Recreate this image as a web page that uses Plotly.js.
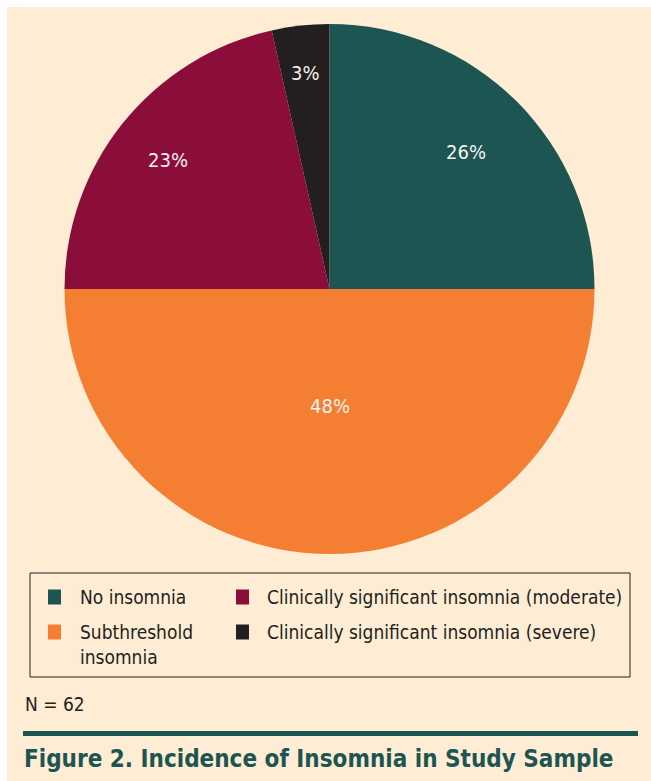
<!DOCTYPE html>
<html>
<head>
<meta charset="utf-8">
<script src="https://cdn.plot.ly/plotly-3.0.1.min.js"></script>
<style>
  html, body { margin: 0; padding: 0; background: #ffffff; }
  #chart { width: 651px; height: 781px; }
</style>
</head>
<body>
<div id="chart"></div>
<script>
// ---- data ----
const categories = ['No insomnia', 'Subthreshold insomnia', 'Clinically significant insomnia (moderate)', 'Clinically significant insomnia (severe)'];
// slice sizes as drawn in the picture (share of the circle, %)
const sliceShares = [25, 50, 21.5, 3.5];
// percentages printed on the slices
const percentLabels = ['26%', '48%', '23%', '3%'];
const sliceColors = ['#1c5552', '#f47f32', '#8b0d3a', '#231f20'];
const legendLabels = ['No insomnia', 'Subthreshold<br>insomnia', 'Clinically significant insomnia (moderate)', 'Clinically significant insomnia (severe)'];
const sampleNote = 'N = 62';
const figureTitle = 'Figure 2. Incidence of Insomnia in Study Sample';

// ---- layout helpers ----
const W = 651, H = 781;
const px = x => x / W;
const py = y => 1 - y / H;
const FONT = '"DejaVu Sans Condensed", "DejaVu Sans", sans-serif';
const cream = '#feedd4';
const teal = '#1c5552';

const cx = 329.5, cy = 289, r = 265;
// radial placement of the printed percentages (fraction of radius), per slice
const labelRadius = [0.73, 0.44, 0.78, 0.82];

const trace = {
  type: 'pie',
  labels: categories,
  values: sliceShares,
  sort: false,
  direction: 'clockwise',
  rotation: 0,
  marker: { colors: sliceColors, line: { width: 0 } },
  textinfo: 'none',
  hoverinfo: 'label',
  showlegend: false,
  domain: { x: [px(cx - r), px(cx + r)], y: [py(cy + r), py(cy - r)] }
};

const shapes = [
  { type: 'rect', xref: 'paper', yref: 'paper', x0: px(7), x1: 1, y0: 0, y1: py(7),
    fillcolor: cream, line: { width: 0 }, layer: 'below' },
  { type: 'rect', xref: 'paper', yref: 'paper', x0: px(30), x1: px(630), y0: py(677), y1: py(573),
    fillcolor: 'rgba(0,0,0,0)', line: { color: '#231f20', width: 1 } },
  { type: 'line', xref: 'paper', yref: 'paper', x0: px(23), x1: px(638), y0: py(733.5), y1: py(733.5),
    line: { color: teal, width: 5 } }
];

const annotations = [];

// percentage labels placed at each slice's mid-angle
const total = sliceShares.reduce((a, b) => a + b, 0);
let cum = 0;
sliceShares.forEach((v, i) => {
  const mid = (cum + v / 2) / total * 2 * Math.PI; // clockwise from 12 o'clock
  cum += v;
  const rr = r * labelRadius[i];
  const X = cx + rr * Math.sin(mid);
  const Y = cy - rr * Math.cos(mid);
  annotations.push({ xref: 'paper', yref: 'paper', x: px(X), y: py(Y), xanchor: 'center', yanchor: 'middle',
    showarrow: false, text: percentLabels[i], font: { family: FONT, size: 20, color: '#f4f1ee' } });
});

// legend drawn as a two-column box
const colSquareX = [48, 236];
const colTextX = [78, 265];
const rowY = [597, 632];
const legFont = 19;
categories.forEach((c, i) => {
  const col = Math.floor(i / 2), row = i % 2;
  const yc = rowY[row];
  shapes.push({ type: 'rect', xref: 'paper', yref: 'paper',
    x0: px(colSquareX[col]), x1: px(colSquareX[col] + 13),
    y0: py(yc + 7.5), y1: py(yc - 7.5),
    fillcolor: sliceColors[i], line: { width: 0 } });
  annotations.push({ xref: 'paper', yref: 'paper', x: px(colTextX[col]), y: py(yc - 13),
    xanchor: 'left', yanchor: 'top', align: 'left', showarrow: false,
    text: legendLabels[i], font: { family: FONT, size: legFont, color: '#231f20' } });
});

annotations.push({ xref: 'paper', yref: 'paper', x: px(23), y: py(704), xanchor: 'left', yanchor: 'middle',
  showarrow: false, text: sampleNote, font: { family: FONT, size: 19, color: '#231f20' } });
annotations.push({ xref: 'paper', yref: 'paper', x: px(22), y: py(759), xanchor: 'left', yanchor: 'middle',
  showarrow: false, text: '<b>' + figureTitle + '</b>', font: { family: FONT, size: 24, color: teal } });

const layout = {
  width: W, height: H,
  margin: { l: 0, r: 0, t: 0, b: 0, pad: 0 },
  paper_bgcolor: '#ffffff',
  plot_bgcolor: 'rgba(0,0,0,0)',
  shapes: shapes,
  annotations: annotations,
  showlegend: false
};

Plotly.newPlot('chart', [trace], layout, { displayModeBar: false, staticPlot: true });
</script>
</body>
</html>
